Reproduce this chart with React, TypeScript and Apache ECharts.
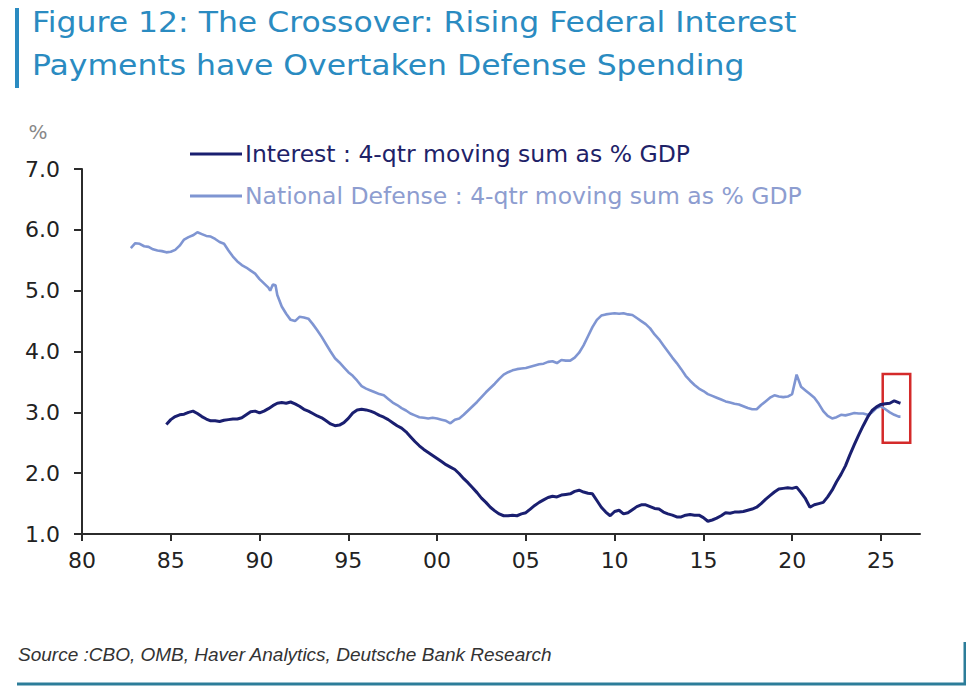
import { useEffect, useRef } from "react";
import * as echarts from "echarts";

// Quarterly observations: [decimal year, % of GDP]
const interestData: [number, number][] = [
  [1984.75, 2.8], [1985.0, 2.88], [1985.25, 2.93], [1985.5, 2.96], [1985.75, 2.97],
  [1986.0, 3.0], [1986.25, 3.02], [1986.5, 2.98], [1986.75, 2.93], [1987.0, 2.89],
  [1987.25, 2.86], [1987.5, 2.86], [1987.75, 2.85], [1988.0, 2.87], [1988.25, 2.88],
  [1988.5, 2.89], [1988.75, 2.89], [1989.0, 2.91], [1989.25, 2.96], [1989.5, 3.01],
  [1989.75, 3.02], [1990.0, 2.99], [1990.25, 3.02], [1990.5, 3.06], [1990.75, 3.11],
  [1991.0, 3.15], [1991.25, 3.16], [1991.5, 3.15], [1991.75, 3.17], [1992.0, 3.14],
  [1992.25, 3.1], [1992.5, 3.05], [1992.75, 3.02], [1993.0, 2.98], [1993.25, 2.94],
  [1993.5, 2.91], [1993.75, 2.86], [1994.0, 2.81], [1994.25, 2.78], [1994.5, 2.79],
  [1994.75, 2.83], [1995.0, 2.9], [1995.25, 2.99], [1995.5, 3.04], [1995.75, 3.05],
  [1996.0, 3.04], [1996.25, 3.02], [1996.5, 2.99], [1996.75, 2.95], [1997.0, 2.92],
  [1997.25, 2.88], [1997.5, 2.83], [1997.75, 2.78], [1998.0, 2.74], [1998.25, 2.68],
  [1998.5, 2.6], [1998.75, 2.52], [1999.0, 2.45], [1999.25, 2.39], [1999.5, 2.34],
  [1999.75, 2.29], [2000.0, 2.24], [2000.25, 2.19], [2000.5, 2.14], [2000.75, 2.1],
  [2001.0, 2.06], [2001.25, 1.99], [2001.5, 1.91], [2001.75, 1.84], [2002.0, 1.76],
  [2002.25, 1.68], [2002.5, 1.59], [2002.75, 1.52], [2003.0, 1.44], [2003.25, 1.38],
  [2003.5, 1.33], [2003.75, 1.3], [2004.0, 1.3], [2004.25, 1.31], [2004.5, 1.3],
  [2004.75, 1.33], [2005.0, 1.35], [2005.25, 1.41], [2005.5, 1.47], [2005.75, 1.52],
  [2006.0, 1.56], [2006.25, 1.6], [2006.5, 1.62], [2006.75, 1.61], [2007.0, 1.64],
  [2007.25, 1.65], [2007.5, 1.66], [2007.75, 1.7], [2008.0, 1.72], [2008.25, 1.69],
  [2008.5, 1.67], [2008.75, 1.66], [2009.0, 1.55], [2009.25, 1.44], [2009.5, 1.36],
  [2009.75, 1.3], [2010.0, 1.37], [2010.25, 1.39], [2010.5, 1.33], [2010.75, 1.35],
  [2011.0, 1.4], [2011.25, 1.45], [2011.5, 1.48], [2011.75, 1.48], [2012.0, 1.45],
  [2012.25, 1.42], [2012.5, 1.41], [2012.75, 1.36], [2013.0, 1.33], [2013.25, 1.31],
  [2013.5, 1.28], [2013.75, 1.28], [2014.0, 1.31], [2014.25, 1.32], [2014.5, 1.31],
  [2014.75, 1.31], [2015.0, 1.27], [2015.25, 1.21], [2015.5, 1.23], [2015.75, 1.26],
  [2016.0, 1.3], [2016.25, 1.35], [2016.5, 1.34], [2016.75, 1.36], [2017.0, 1.36],
  [2017.25, 1.37], [2017.5, 1.39], [2017.75, 1.41], [2018.0, 1.44], [2018.25, 1.5],
  [2018.5, 1.57], [2018.75, 1.63], [2019.0, 1.69], [2019.25, 1.74], [2019.5, 1.75],
  [2019.75, 1.76], [2020.0, 1.75], [2020.25, 1.77], [2020.5, 1.68], [2020.75, 1.58],
  [2021.0, 1.44], [2021.25, 1.48], [2021.5, 1.5], [2021.75, 1.52], [2022.0, 1.61],
  [2022.25, 1.72], [2022.5, 1.86], [2022.75, 1.98], [2023.0, 2.12], [2023.25, 2.3],
  [2023.5, 2.47], [2023.75, 2.63], [2024.0, 2.78], [2024.25, 2.92], [2024.5, 3.03],
  [2024.75, 3.09], [2025.0, 3.13], [2025.25, 3.14], [2025.5, 3.15], [2025.75, 3.19],
  [2026.0, 3.16], [2026.1, 3.15],
];

const defenseData: [number, number][] = [
  [1982.75, 5.7], [1983.0, 5.78], [1983.25, 5.77], [1983.5, 5.73], [1983.75, 5.72],
  [1984.0, 5.68], [1984.25, 5.66], [1984.5, 5.65], [1984.75, 5.63], [1985.0, 5.64],
  [1985.25, 5.67], [1985.5, 5.74], [1985.75, 5.84], [1986.0, 5.88], [1986.25, 5.91],
  [1986.5, 5.96], [1986.75, 5.93], [1987.0, 5.9], [1987.25, 5.89], [1987.5, 5.85],
  [1987.75, 5.8], [1988.0, 5.77], [1988.25, 5.66], [1988.5, 5.56], [1988.75, 5.48],
  [1989.0, 5.42], [1989.25, 5.38], [1989.5, 5.33], [1989.75, 5.28], [1990.0, 5.19],
  [1990.25, 5.12], [1990.5, 5.05], [1990.6, 5.0], [1990.75, 5.1], [1990.9, 5.09],
  [1991.0, 4.93], [1991.25, 4.74], [1991.5, 4.62], [1991.75, 4.52], [1992.0, 4.5],
  [1992.25, 4.57], [1992.5, 4.56], [1992.75, 4.54], [1993.0, 4.45], [1993.25, 4.35],
  [1993.5, 4.24], [1993.75, 4.12], [1994.0, 4.0], [1994.25, 3.89], [1994.5, 3.82],
  [1994.75, 3.74], [1995.0, 3.66], [1995.25, 3.6], [1995.5, 3.52], [1995.75, 3.43],
  [1996.0, 3.39], [1996.25, 3.36], [1996.5, 3.33], [1996.75, 3.3], [1997.0, 3.28],
  [1997.25, 3.22], [1997.5, 3.16], [1997.75, 3.12], [1998.0, 3.07], [1998.25, 3.03],
  [1998.5, 2.98], [1998.75, 2.95], [1999.0, 2.92], [1999.25, 2.91], [1999.5, 2.9],
  [1999.75, 2.91], [2000.0, 2.9], [2000.25, 2.88], [2000.5, 2.86], [2000.75, 2.82],
  [2001.0, 2.88], [2001.25, 2.9], [2001.5, 2.96], [2001.75, 3.03], [2002.0, 3.1],
  [2002.25, 3.17], [2002.5, 3.25], [2002.75, 3.33], [2003.0, 3.4], [2003.25, 3.47],
  [2003.5, 3.55], [2003.75, 3.62], [2004.0, 3.66], [2004.25, 3.69], [2004.5, 3.71],
  [2004.75, 3.72], [2005.0, 3.73], [2005.25, 3.75], [2005.5, 3.77], [2005.75, 3.79],
  [2006.0, 3.8], [2006.25, 3.83], [2006.5, 3.84], [2006.75, 3.81], [2007.0, 3.86],
  [2007.25, 3.85], [2007.5, 3.85], [2007.75, 3.9], [2008.0, 3.98], [2008.25, 4.1],
  [2008.5, 4.25], [2008.75, 4.4], [2009.0, 4.52], [2009.25, 4.59], [2009.5, 4.61],
  [2009.75, 4.62], [2010.0, 4.63], [2010.25, 4.62], [2010.5, 4.63], [2010.75, 4.61],
  [2011.0, 4.6], [2011.25, 4.55], [2011.5, 4.5], [2011.75, 4.45], [2012.0, 4.38],
  [2012.25, 4.28], [2012.5, 4.2], [2012.75, 4.1], [2013.0, 4.0], [2013.25, 3.9],
  [2013.5, 3.81], [2013.75, 3.71], [2014.0, 3.6], [2014.25, 3.52], [2014.5, 3.45],
  [2014.75, 3.39], [2015.0, 3.35], [2015.25, 3.3], [2015.5, 3.27], [2015.75, 3.24],
  [2016.0, 3.21], [2016.25, 3.18], [2016.5, 3.16], [2016.75, 3.14], [2017.0, 3.13],
  [2017.25, 3.1], [2017.5, 3.07], [2017.75, 3.05], [2018.0, 3.05], [2018.25, 3.12],
  [2018.5, 3.18], [2018.75, 3.24], [2019.0, 3.28], [2019.25, 3.26], [2019.5, 3.25],
  [2019.75, 3.26], [2020.0, 3.3], [2020.25, 3.62], [2020.5, 3.42], [2020.75, 3.36],
  [2021.0, 3.3], [2021.25, 3.24], [2021.5, 3.14], [2021.75, 3.02], [2022.0, 2.94],
  [2022.25, 2.9], [2022.5, 2.92], [2022.75, 2.96], [2023.0, 2.95], [2023.25, 2.97],
  [2023.5, 2.99], [2023.75, 2.98], [2024.0, 2.98], [2024.25, 2.96], [2024.5, 3.0],
  [2024.75, 3.07], [2025.0, 3.1], [2025.25, 3.05], [2025.5, 3.0], [2025.75, 2.96],
  [2026.0, 2.93], [2026.1, 2.93],
];

const seriesNames = [
  "Interest : 4-qtr moving sum as % GDP",
  "National Defense : 4-qtr moving sum as % GDP",
];

const xTickYears = [1980, 1985, 1990, 1995, 2000, 2005, 2010, 2015, 2020, 2025];
const yTicks = [1, 2, 3, 4, 5, 6, 7];

// Highlighted crossover window: [year from, year to], [% top, % bottom]
const crossoverYears = [2025.1, 2026.65];
const crossoverPct = [3.63, 2.5];

const titleLines = [
  "Figure 12: The Crossover: Rising Federal Interest",
  "Payments have Overtaken Defense Spending",
];
const sourceText = "Source :CBO, OMB, Haver Analytics, Deutsche Bank Research";

const INTEREST_COLOR = "#1a1f70";
const DEFENSE_COLOR = "#7f95d2";
const TITLE_COLOR = "#2a8bc1";
const FRAME_COLOR = "#2c7d99";
const AXIS_COLOR = "#2b2b2b";
const FONT = "DejaVu Sans";

export default function App() {
  const ref = useRef<HTMLDivElement>(null);

  useEffect(() => {
    if (!ref.current) return;
    const chart = echarts.init(ref.current, undefined, { renderer: "svg" });

    const option: any = {
      animation: false,
      backgroundColor: "#ffffff",
      grid: { left: 82, top: 169, right: 54, bottom: 166, containLabel: false },
      legend: {
        orient: "vertical",
        left: 185,
        top: 137,
        icon: "rect",
        itemWidth: 52,
        itemHeight: 3,
        itemGap: 18,
        selectedMode: false,
        textStyle: { fontFamily: FONT, fontSize: 23.5, lineHeight: 24, padding: [0, 0, 0, -2] },
        data: [
          { name: seriesNames[0], itemStyle: { color: INTEREST_COLOR }, textStyle: { color: "#1e2268" } },
          { name: seriesNames[1], itemStyle: { color: DEFENSE_COLOR }, textStyle: { color: "#8d9dd0" } },
        ],
      },
      xAxis: {
        type: "value",
        min: 1980,
        max: 2027.2,
        interval: 5,
        axisLine: { show: true, lineStyle: { color: AXIS_COLOR, width: 2 } },
        axisTick: {
          show: true,
          length: 7,
          lineStyle: { color: AXIS_COLOR, width: 2 },
          customValues: xTickYears,
        },
        axisLabel: {
          margin: 15,
          color: "#222",
          fontFamily: FONT,
          fontSize: 22,
          customValues: xTickYears,
          formatter: (v: number) => String(Math.round(v) % 100).padStart(2, "0"),
        },
        splitLine: { show: false },
      },
      yAxis: {
        type: "value",
        min: 1,
        max: 7,
        interval: 1,
        axisLine: { show: true, lineStyle: { color: AXIS_COLOR, width: 2 } },
        axisTick: {
          show: true,
          length: 8,
          lineStyle: { color: AXIS_COLOR, width: 2 },
          customValues: yTicks,
        },
        axisLabel: {
          margin: 22,
          color: "#222",
          fontFamily: FONT,
          fontSize: 22,
          customValues: yTicks,
          formatter: (v: number) => v.toFixed(1),
        },
        splitLine: { show: false },
      },
      series: [
        {
          name: seriesNames[1],
          type: "line",
          data: defenseData,
          symbol: "none",
          z: 2,
          lineStyle: { color: DEFENSE_COLOR, width: 2.6 },
          itemStyle: { color: DEFENSE_COLOR },
        },
        {
          name: seriesNames[0],
          type: "line",
          data: interestData,
          symbol: "none",
          z: 3,
          lineStyle: { color: INTEREST_COLOR, width: 3 },
          itemStyle: { color: INTEREST_COLOR },
          markArea: {
            silent: true,
            label: { show: false },
            itemStyle: {
              color: "rgba(0,0,0,0)",
              borderColor: "#d42a2a",
              borderWidth: 2.5,
            },
            data: [
              [
                { coord: [crossoverYears[0], crossoverPct[0]] },
                { coord: [crossoverYears[1], crossoverPct[1]] },
              ],
            ],
          },
        },
      ],
      graphic: [
        // title accent bar
        {
          type: "line",
          shape: { x1: 17, y1: 0, x2: 17, y2: 88 },
          style: { stroke: TITLE_COLOR, lineWidth: 4 },
        },
        {
          type: "text",
          x: 32,
          y: 22,
          scaleX: 1.085,
          style: {
            text: titleLines[0],
            fill: TITLE_COLOR,
            font: `29px "${FONT}"`,
            verticalAlign: "middle",
          },
        },
        {
          type: "text",
          x: 32,
          y: 65,
          scaleX: 1.085,
          style: {
            text: titleLines[1],
            fill: TITLE_COLOR,
            font: `29px "${FONT}"`,
            verticalAlign: "middle",
          },
        },
        {
          type: "text",
          x: 38,
          y: 132,
          style: {
            text: "%",
            fill: "#888",
            font: `20px "${FONT}"`,
            align: "center",
            verticalAlign: "middle",
          },
        },
        {
          type: "text",
          x: 18,
          y: 654,
          style: {
            text: sourceText,
            fill: "#333",
            font: `italic 19px "Liberation Sans"`,
            verticalAlign: "middle",
          },
        },
        // footer frame
        {
          type: "polyline",
          shape: { points: [[17, 684], [965, 684], [965, 642]] },
          style: { stroke: FRAME_COLOR, lineWidth: 3, fill: "none" },
        },
      ],
    };

    chart.setOption(option);
    return () => chart.dispose();
  }, []);

  return <div ref={ref} style={{ width: 974, height: 700, marginLeft: -8, marginTop: -8 }} />;
}
